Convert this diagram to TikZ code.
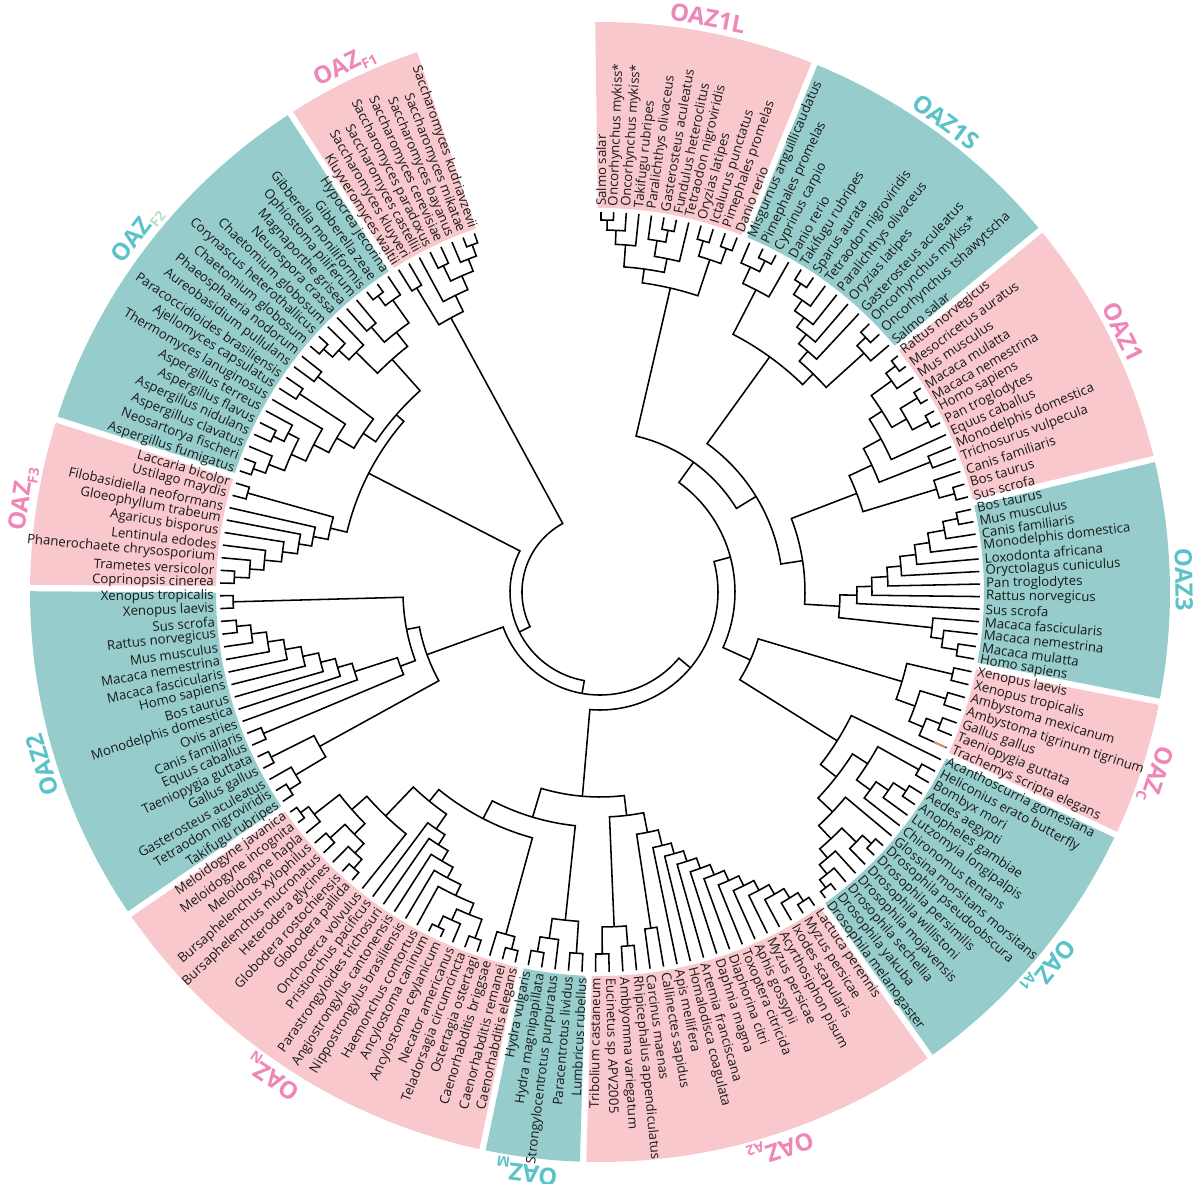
\documentclass[tikz,border=0pt]{standalone}
\usepackage{fontspec}
\setmainfont{Open Sans}

\definecolor{pinkbg}{HTML}{F8C8CC}
\definecolor{tealbg}{HTML}{96CDCC}
\definecolor{pinktxt}{HTML}{EE86B8}
\definecolor{tealtxt}{HTML}{5AC3C8}
\definecolor{palegreen}{HTML}{B4E1BE}
\definecolor{tiporange}{HTML}{F0905A}

% angle and radius of a tree node
\newcommand\storenode[3]{%
  \expandafter\xdef\csname ta@#1\endcsname{#2}%
  \expandafter\xdef\csname tr@#1\endcsname{#3}}

% join two children (#3, #4) into node #1 at radius #2
\newcommand\joinclade[4]{%
  \edef\angA{\csname ta@#3\endcsname}\edef\radA{\csname tr@#3\endcsname}%
  \edef\angB{\csname ta@#4\endcsname}\edef\radB{\csname tr@#4\endcsname}%
  \draw[branch] (\angA:\radA) -- (\angA:#2)
    arc[start angle=\angA, end angle=\angB, radius=#2] -- (\angB:\radB);
  \pgfmathsetmacro\angP{(\angA+\angB)/2}%
  \storenode{#1}{\angP}{#2}}

% coloured sector: start, end, count, first leaf, fill, names
\newcommand\oazsector[6]{%
  \pgfmathsetmacro\sA{#1-0.48}\pgfmathsetmacro\sB{#2+0.48}%
  \pgfmathsetmacro\oA{#1-0.32}\pgfmathsetmacro\oB{#2+0.32}%
  \fill[#5] (\sA:384) arc[start angle=\sA, end angle=\sB, radius=384]
    -- (\oB:570) arc[start angle=\oB, end angle=\oA, radius=570] -- cycle;
  \foreach \nm [count=\idx from 0] in {#6} {
    \pgfmathsetmacro\ang{#1-(\idx+0.5)*(#1-(#2))/#3}
    \pgfmathtruncatemacro\k{#4+\idx}
    \storenode{\k}{\ang}{380}
    \ifdim\ang pt<-90pt
      \node[leaf, anchor=east, rotate=\ang+180] (lab\k) at (\ang:386) {\nm};
    \else
      \node[leaf, anchor=west, rotate=\ang] (lab\k) at (\ang:386) {\nm};
    \fi
  }}

\newcommand\lowsub[1]{\raisebox{-0.4ex}{\fontsize{10}{10}\selectfont #1}}

\begin{document}
\begin{tikzpicture}[
  x=0.25mm, y=0.25mm,
  branch/.style = {line width=1.1pt, black},
  leaf/.style = {inner sep=0pt, font=\fontsize{9.4}{9.4}\selectfont, text=black!90},
  oaztitle/.style = {inner sep=0pt, font=\fontsize{17}{17}\selectfont\bfseries}
]
\useasboundingbox (-600,-592) rectangle (600,592);

% sectors and leaves, clockwise from the top
\oazsector{90.8}{67.9}{12}{1}{pinkbg}{Salmo salar, Oncorhynchus mykiss*, Oncorhynchus mykiss*, Takifugu rubripes, Paralichthys olivaceus, Gasterosteus aculeatus, Fundulus heteroclitus, Tetraodon nigroviridis, Oryzias latipes, Ictalurus punctatus, Pimephales promelas, Danio rerio}
\oazsector{67.9}{39.4}{13}{13}{tealbg}{Misgurnus anguillicaudatus, Pimephales promelas, Cyprinus carpio, Danio rerio, Takifugu rubripes, Sparus aurata, Tetraodon nigroviridis, Paralichthys olivaceus, Oryzias latipes, Gasterosteus aculeatus, Oncorhynchus mykiss*, Oncorhynchus tshawytscha, Salmo salar}
\oazsector{39.4}{13.5}{13}{26}{pinkbg}{Rattus norvegicus, Mesocricetus auratus, Mus musculus, Macaca mulatta, Macaca nemestrina, Homo sapiens, Pan troglodytes, Equus caballus, Monodelphis domestica, Trichosurus vulpecula, Canis familiaris, Bos taurus, Sus scrofa}
\oazsector{13.5}{-11.1}{13}{39}{tealbg}{Bos taurus, Mus musculus, Canis familiaris, Monodelphis domestica, Loxodonta africana, Oryctolagus cuniculus, Pan troglodytes, Rattus norvegicus, Sus scrofa, Macaca fascicularis, Macaca nemestrina, Macaca mulatta, Homo sapiens}
\oazsector{-11.1}{-25.2}{7}{52}{pinkbg}{Xenopus laevis, Xenopus tropicalis, Ambystoma mexicanum, Ambystoma tigrinum tigrinum, Gallus gallus, Taeniopygia guttata, Trachemys scripta elegans}
\oazsector{-25.2}{-54.6}{15}{59}{tealbg}{Acanthoscurria gomesiana, Heliconius erato butterfly, Bombyx mori, Aedes aegypti, Anopheles gambiae, Lutzomyia longipalpis, Chironomus tentans, Glossina morsitans morsitans, Drosophila pseudoobscura, Drosophila persimilis, Drosophila willistoni, Drosophila mojavensis, Drosophila sechellia, Drosophila yakuba, Drosophila melanogaster}
\oazsector{-54.6}{-91.7}{18}{74}{pinkbg}{Lactuca perennis, Myzus persicae, Ixodes scapularis, Acyrthosiphon pisum, Myzus persicae, Aphis gossypii, Toxoptera citricida, Diaphorina citri, Daphnia magna, Artemia franciscana, Homalodisca coagulata, Apis mellifera, Callinectes sapidus, Carcinus maenas, Rhipicephalus appendiculatus, Amblyomma variegatum, Eucinetus sp APV2005, Tribolium castaneum}
\oazsector{-91.7}{-101.9}{5}{92}{tealbg}{Lumbricus rubellus, Paracentrotus lividus, Strongylocentrotus purpuratus, Hydra magnipapillata, Hydra vulgaris}
\oazsector{-101.9}{-145.6}{22}{97}{pinkbg}{Caenorhabditis elegans, Caenorhabditis remanei, Caenorhabditis briggsae, Ostertagia ostertagi, Teladorsagia circumcincta, Necator americanus, Ancylostoma ceylanicum, Ancylostoma caninum, Haemonchus contortus, Nippostrongylus brasiliensis, Angiostrongylus cantonensis, Parastrongyloides trichosuri, Pristionchus pacificus, Onchocerca volvulus, Globodera pallida, Globodera rostochiensis, Heterodera glycines, Bursaphelenchus mucronatus, Bursaphelenchus xylophilus, Meloidogyne hapla, Meloidogyne incognita, Meloidogyne javanica}
\oazsector{-145.6}{-180.4}{18}{119}{tealbg}{Takifugu rubripes, Tetraodon nigroviridis, Gasterosteus aculeatus, Gallus gallus, Taeniopygia guttata, Equus caballus, Canis familiaris, Ovis aries, Monodelphis domestica, Bos taurus, Homo sapiens, Macaca fascicularis, Macaca nemestrina, Mus musculus, Rattus norvegicus, Sus scrofa, Xenopus laevis, Xenopus tropicalis}
\oazsector{-180.4}{-197.6}{9}{137}{pinkbg}{Coprinopsis cinerea, Trametes versicolor, Phanerochaete chrysosporium, Lentinula edodes, Agaricus bisporus, Gloeophyllum trabeum, Filobasidiella neoformans, Ustilago maydis, Laccaria bicolor}
\oazsector{-197.6}{-237.1}{20}{146}{tealbg}{Aspergillus fumigatus, Neosartorya fischeri, Aspergillus clavatus, Aspergillus nidulans, Aspergillus flavus, Aspergillus terreus, Thermomyces lanuginosus, Ajellomyces capsulatus, Paracoccidioides brasiliensis, Aureobasidium pullulans, Phaeosphaeria nodorum, Chaetomium globosum, Corynascus heterothallicus, Chaetomium globosum, Neurospora crassa, Magnaporthe grisea, Ophiostoma piliferum, Gibberella moniliformis, Gibberella zeae, Hypocrea jecorina}
\oazsector{-237.1}{-251.6}{8}{166}{pinkbg}{Kluyveromyces waltii, Saccharomyces kluyveri, Saccharomyces castellii, Saccharomyces paradoxus, Saccharomyces cerevisiae, Saccharomyces bayanus, Saccharomyces mikatae, Saccharomyces kudriavzevii}

% sector titles
\foreach \ta/\tn/\tc/\tt in {79.35/t1L/pinktxt/OAZ1L,
  53.65/t1S/tealtxt/OAZ1S,
  26.45/t1/pinktxt/OAZ1,
  1.2/t3/tealtxt/OAZ3,
  -18.15/tC/pinktxt/OAZ\lowsub{C},
  -39.9/tA1/tealtxt/OAZ\lowsub{A1},
  -72/tA2/pinktxt/OAZ\lowsub{A2},
  -97.2/tM/tealtxt/OAZ\lowsub{M},
  -124/tN/pinktxt/OAZ\lowsub{N},
  -162.8/t2/tealtxt/OAZ2,
  -189.2/tF3/pinktxt/OAZ\lowsub{F3},
  -217.7/tF2/tealtxt/OAZ\lowsub{\textcolor{palegreen}{F2}},
  -244.1/tF1/pinktxt/OAZ\lowsub{F1}}
  \node[oaztitle, text=\tc, rotate=\ta-90] (\tn) at (\ta:584) {\tt};

% OAZ1L, OAZ1S
\foreach \pn/\pr/\ca/\cb in {a1/372/1/2,
  a2/362/a1/3, a3/348/a2/4, a4/368/6/7, a5/356/5/a4, a6/340/a5/8,
  a7/326/a3/a6, a8/366/9/10, a9/366/11/12, a10/350/a8/a9, c1L/312/a7/a10,
  b1/370/14/15, b2/358/13/b1, b3/340/b2/16, b4/368/17/18, b5/355/b4/19,
  b6/342/b5/20, b7/330/b6/21, b8/318/b7/22, b9/368/23/24, b10/356/b9/25,
  b11/305/b8/b10, c1S/290/b3/b11}
  \joinclade{\pn}{\pr}{\ca}{\cb};

% OAZ1, OAZ3, OAZc
\foreach \pn/\pr/\ca/\cb in {m1/372/26/27,
  m2/360/m1/28, m3/372/29/30, m4/370/31/32, m5/352/m3/m4, m6/335/m2/m5,
  m7/320/m6/33, m8/355/34/35, m9/368/37/38, m10/352/36/m9, m11/300/m7/m8,
  c1/275/m11/m10,
  t1/365/39/40, t2/350/t1/41, t3/333/t2/42, t4/318/t3/43, t5/302/t4/44,
  t6/288/t5/45, t7/272/t6/46, t8/257/t7/47, t9/362/50/51, t10/346/49/t9,
  t11/334/48/t10, c3/240/t8/t11,
  x1/362/52/53, x2/362/54/55, x3/365/56/57, x4/350/x3/58, x5/335/x2/x4,
  cC/315/x1/x5}
  \joinclade{\pn}{\pr}{\ca}{\cb};

% OAZA1, OAZA2, OAZM
\foreach \pn/\pr/\ca/\cb in {y1/365/60/61,
  y2/365/62/63, y3/350/y2/64, y4/335/y3/65, y5/318/y1/y4, y6/370/67/68,
  y7/358/y6/69, y8/372/72/73, y9/362/71/y8, y10/350/70/y9, y11/338/y7/y10,
  y12/320/66/y11, y13/300/y5/y12, cA1/280/59/y13,
  z1/370/74/75, z2/360/z1/76, z3/349/z2/77, z4/338/z3/78, z5/327/z4/79,
  z6/316/z5/80, z7/305/z6/81, z8/294/z7/82, z9/283/z8/83, z10/272/z9/84,
  z11/261/z10/85, z12/340/86/87, z13/245/z11/z12, z14/355/88/89,
  z15/362/90/91, z16/335/z14/z15, cA2/225/z13/z16,
  w1/365/95/96, w2/350/94/w1, w3/362/92/93, cM/330/w3/w2}
  \joinclade{\pn}{\pr}{\ca}{\cb};

% OAZN, OAZ2
\foreach \pn/\pr/\ca/\cb in {n1/368/97/98,
  n2/355/n1/99, n3/368/100/101, n4/372/103/104, n5/360/102/n4,
  n6/348/n3/n5, n7/336/n6/105, n8/324/n7/106, n9/312/n8/107,
  n10/300/n9/108, n11/288/n10/109, n12/370/111/112, n13/358/n12/113,
  n14/365/114/115, n15/345/n13/n14, n16/372/117/118, n17/362/116/n16,
  n18/330/n15/n17, n19/310/110/n18, n20/270/n11/n19, cN/255/n2/n20,
  o1/368/119/120, o2/355/o1/121, o3/368/122/123, o4/320/o2/o3,
  o5/365/124/125, o6/365/133/134, o7/351/132/o6, o8/336/131/o7,
  o9/320/130/o8, o10/304/129/o9, o11/288/128/o10, o12/273/127/o11,
  o13/258/126/o12, o14/213/o5/o13, o15/367/135/136, o16/197/o14/o15,
  cX2/184/o4/o16}
  \joinclade{\pn}{\pr}{\ca}{\cb};

% fungi
\foreach \pn/\pr/\ca/\cb in {f1/366/137/138,
  f2/351/f1/139, f3/337/f2/140, f4/320/f3/141, f5/305/f4/142,
  f6/292/f5/143, f7/366/144/145, cF3/277/f6/f7,
  g1/368/146/147, g2/355/g1/148, g3/362/149/150, g4/350/g3/151,
  g5/338/g2/g4, g6/322/g5/152, g7/360/153/154, g8/305/g6/g7,
  g9/355/155/156, g10/285/g8/g9, g11/368/157/158, g12/356/g11/159,
  g13/342/g12/160, g14/350/161/162, g15/370/163/164, g16/358/g15/165,
  g17/330/g14/g16, g18/312/g13/g17, cF2/270/g10/g18,
  s1/370/172/173, s2/358/171/s1, s3/362/169/170, s4/345/s3/s2,
  s5/330/168/s4, s6/355/166/167, cF1/312/s6/s5}
  \joinclade{\pn}{\pr}{\ca}{\cb};

% backbone
\foreach \pn/\pr/\ca/\cb in {cMam/205/c1/c3,
  S1/183/c1S/cMam, S0/160/c1L/S1, H/165/cC/cA1, E/135/S0/H,
  J/235/cM/cN, Bot/205/cA2/J, Dn/118/E/Bot, Cn/103/cX2/Dn,
  FF/260/cF3/cF2, B/90/FF/Cn, root/78/cF1/B}
  \joinclade{\pn}{\pr}{\ca}{\cb};

% orange tip of Trachemys
\edef\trAng{\csname ta@58\endcsname}
\draw[branch, tiporange] (\trAng:366) -- (\trAng:379);

\end{tikzpicture}
\end{document}
